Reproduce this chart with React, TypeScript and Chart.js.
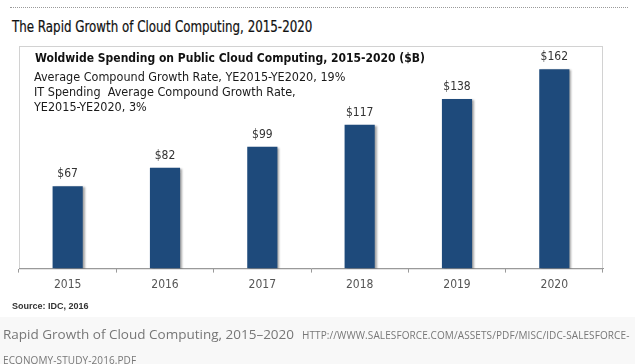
import React, { useEffect, useRef } from 'react';
import { Chart, registerables } from 'chart.js';

Chart.register(...registerables);

const years = ['2015', '2016', '2017', '2018', '2019', '2020'];
const spending = [67, 82, 99, 117, 138, 162];
const valueLabels = ['$67', '$82', '$99', '$117', '$138', '$162'];
const pageTitle = 'The Rapid Growth of Cloud Computing, 2015-2020';
const chartTitle = 'Woldwide Spending on Public Cloud Computing, 2015-2020 ($B)';
const chartNotes = [
  'Average Compound Growth Rate, YE2015-YE2020, 19%',
  'IT Spending  Average Compound Growth Rate,',
  'YE2015-YE2020, 3%',
];
const sourceText = 'Source: IDC, 2016';
const captionTitle = 'Rapid Growth of Cloud Computing, 2015–2020';
const captionUrlLine1 = 'HTTP://WWW.SALESFORCE.COM/ASSETS/PDF/MISC/IDC-SALESFORCE-';
const captionUrlLine2 = 'ECONOMY-STUDY-2016.PDF';

const CHART_FONT = '"DejaVu Sans Condensed", "DejaVu Sans", sans-serif';

const decorPlugin = {
  id: 'decor',
  beforeDraw(chart: any) {
    const { ctx, chartArea: a } = chart;
    ctx.save();
    ctx.strokeStyle = '#d2d2d2';
    ctx.lineWidth = 1;
    ctx.strokeRect(a.left + 0.5, a.top + 0.5, a.right - a.left - 1, a.bottom - a.top);
    ctx.restore();
  },
  beforeDatasetsDraw(chart: any) {
    const ctx = chart.ctx;
    ctx.save();
    ctx.shadowColor = 'rgba(0,0,0,0.35)';
    ctx.shadowOffsetX = 2;
    ctx.shadowOffsetY = 1;
    ctx.shadowBlur = 2;
  },
  afterDatasetsDraw(chart: any) {
    const { ctx, chartArea: a } = chart;
    ctx.restore();
    ctx.save();
    const meta = chart.getDatasetMeta(0);
    ctx.font = `12px ${CHART_FONT}`;
    ctx.fillStyle = '#333333';
    ctx.textAlign = 'center';
    ctx.textBaseline = 'middle';
    meta.data.forEach((bar: any, i: number) => {
      ctx.fillText(valueLabels[i], bar.x, bar.y - 12);
    });
    ctx.textAlign = 'left';
    ctx.fillStyle = '#111111';
    ctx.font = `bold 12px ${CHART_FONT}`;
    ctx.fillText(chartTitle, a.left + 16, a.top + 13);
    ctx.font = `12.5px ${CHART_FONT}`;
    ctx.fillStyle = '#1a1a1a';
    chartNotes.forEach((line, i) => {
      ctx.fillText(line, a.left + 15, a.top + 32 + i * 15);
    });
    ctx.restore();
  },
};

export default function App() {
  const canvasRef = useRef<HTMLCanvasElement | null>(null);

  useEffect(() => {
    if (!canvasRef.current) return;
    const chart = new Chart(canvasRef.current, {
      type: 'bar',
      data: {
        labels: years,
        datasets: [
          {
            data: spending,
            backgroundColor: '#1e4a7b',
            borderWidth: 0,
            barPercentage: 0.31,
            categoryPercentage: 1,
          },
        ],
      },
      options: {
        animation: false,
        responsive: false,
        events: [],
        layout: { padding: { left: 19, right: 32, top: 46, bottom: 67 } },
        plugins: {
          legend: { display: false },
          tooltip: { enabled: false },
          title: { display: false },
        },
        scales: {
          x: {
            offset: true,
            grid: {
              offset: true,
              display: true,
              drawOnChartArea: false,
              drawTicks: true,
              tickLength: 4,
              color: '#9a9a9a',
            },
            border: { display: true, color: '#9a9a9a' },
            ticks: {
              color: '#555555',
              padding: 5,
              font: { family: CHART_FONT, size: 12 },
            },
          },
          y: {
            display: false,
            min: 0,
            max: 181,
          },
        },
      },
      plugins: [decorPlugin],
    });
    return () => chart.destroy();
  }, []);

  return (
    <div style={{ position: 'absolute', left: 0, top: 0, width: 635, height: 364, background: '#ffffff', overflow: 'hidden' }}>
      <div style={{ position: 'absolute', left: 0, top: 317, width: 635, height: 47, background: '#f8f8f8' }} />
      <div style={{ position: 'absolute', left: 10, top: 7, width: 618, borderTop: '1px dotted #9a9a9a' }} />
      <div
        style={{
          position: 'absolute',
          left: 12,
          top: 17,
          fontFamily: CHART_FONT,
          fontSize: 15,
          color: '#111111',
          whiteSpace: 'nowrap',
          lineHeight: '20px',
          transform: 'scaleX(0.88)',
          transformOrigin: 'left center',
          WebkitTextStroke: '0.2px #111111',
        }}
      >
        {pageTitle}
      </div>
      <canvas ref={canvasRef} width={635} height={364} style={{ position: 'absolute', left: 0, top: 0 }} />
      <div
        style={{
          position: 'absolute',
          left: 12,
          top: 299,
          fontFamily: '"Liberation Sans Narrow", "Liberation Sans", Arial, sans-serif',
          fontWeight: 'bold',
          fontSize: 9,
          color: '#333333',
          whiteSpace: 'nowrap',
          lineHeight: '14px',
        }}
      >
        {sourceText}
      </div>
      <div
        style={{
          position: 'absolute',
          left: 3,
          top: 322,
          fontFamily: '"Open Sans", sans-serif',
          color: '#777777',
          whiteSpace: 'nowrap',
          lineHeight: '23px',
        }}
      >
        <span style={{ fontSize: 13.5 }}>{captionTitle}</span>
        <span style={{ fontSize: 10, marginLeft: 8, letterSpacing: 0.1 }}>{captionUrlLine1}</span>
        <br />
        <span style={{ fontSize: 10, letterSpacing: 0.1 }}>{captionUrlLine2}</span>
      </div>
    </div>
  );
}
